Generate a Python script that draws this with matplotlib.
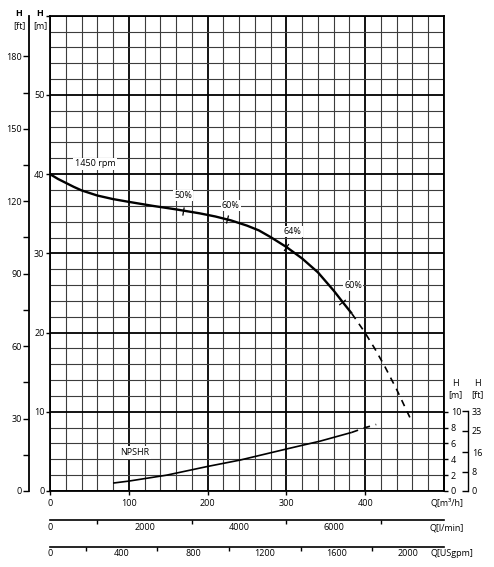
import numpy as np
import matplotlib.pyplot as plt
from matplotlib.ticker import MultipleLocator, FixedLocator

plt.rcParams['font.family'] = ['Open Sans', 'DejaVu Sans']
plt.rcParams['font.size'] = 6.5

# pump curve H(Q), 1450 rpm
q_head = [0, 10, 20, 30, 40, 60, 80, 100, 130, 160, 190, 210, 230, 250, 265, 280,
          300, 320, 340, 360, 371, 383]
h_head = [40.0, 39.4, 38.9, 38.4, 37.95, 37.3, 36.85, 36.5, 36.0, 35.55, 35.05, 34.65,
          34.15, 33.5, 32.9, 32.05, 30.8, 29.35, 27.6, 25.3, 23.9, 22.4]
q_head_ext = [383, 399, 412, 425, 440, 459]
h_head_ext = [22.4, 20.1, 18.0, 15.7, 12.8, 8.8]

# NPSHR
q_npsh = [80, 100, 148, 200, 241, 300, 343, 383]
h_npsh = [1.0, 1.25, 2.0, 3.1, 3.9, 5.3, 6.3, 7.4]
q_npsh_ext = [383, 400, 414]
h_npsh_ext = [7.4, 8.0, 8.4]

# efficiency points on the curve
eff_q = [169, 224, 300, 371]
eff_h = [35.4, 34.3, 30.8, 23.9]
eff_labels = ['50%', '60%', '64%', '60%']

q_ticks = [0, 100, 200, 300, 400, 500]
q_labels = ['0', '100', '200', '300', '400', '']
h_ticks = [0, 10, 20, 30, 40, 50, 60]
h_labels = ['0', '10', '20', '30', '40', '50', '']
ft_ticks = [0, 30, 60, 90, 120, 150, 180]
ft_minor = [15, 45, 75, 105, 135, 165]
npsh_m_ticks = [0, 2, 4, 6, 8, 10]
npsh_ft_ticks = [0, 8, 16, 25, 33]
lmin_ticks = [0, 2000, 4000, 6000]
lmin_minor = [1000, 3000, 5000, 7000]
gpm_ticks = [0, 400, 800, 1200, 1600, 2000]
gpm_minor = [200, 600, 1000, 1400, 1800]

W, H = 494, 567
fig = plt.figure(figsize=(W / 100, H / 100), dpi=100)
x0, x1, ytop, ybot = 50, 444, 15.7, 491
ax = fig.add_axes([x0 / W, 1 - ybot / H, (x1 - x0) / W, (ybot - ytop) / H])
ax.set_xlim(0, 500)
ax.set_ylim(0, 60)

ax.set_xticks(q_ticks)
ax.set_xticklabels(q_labels)
ax.set_yticks(h_ticks)
ax.set_yticklabels(h_labels)
ax.xaxis.set_minor_locator(MultipleLocator(20))
ax.yaxis.set_minor_locator(MultipleLocator(2))
ax.set_axisbelow(True)
ax.grid(which='minor', color='#3c3c3c', lw=0.8)
ax.grid(which='major', color='black', lw=1.3)
ax.tick_params(which='minor', length=0)
ax.tick_params(axis='x', which='major', length=3, width=1, pad=3)
ax.tick_params(axis='y', which='major', length=3, width=1, pad=1)
ax.xaxis.get_major_ticks()[-1].tick1line.set_visible(False)
ax.yaxis.get_major_ticks()[-1].tick1line.set_visible(False)
for s in ax.spines.values():
    s.set_linewidth(1.3)

# curves
ax.plot(q_head, h_head, color='black', lw=1.7, zorder=4, solid_capstyle='butt',
        solid_joinstyle='round')
ax.plot(q_head_ext, h_head_ext, color='black', lw=1.2, ls=(0, (4, 3.5)), zorder=4)
ax.plot(q_npsh, h_npsh, color='black', lw=1.2, zorder=4, solid_capstyle='butt')
ax.plot(q_npsh_ext, h_npsh_ext, color='black', lw=1.2, ls=(0, (4, 3.5)), zorder=4)

# efficiency marks, perpendicular to curve
fig.canvas.draw()
offsets = [(0, 11), (3, 10), (4.5, 11), (8, 11.5)]
for q, h, lab, off in zip(eff_q, eff_h, eff_labels, offsets):
    a = ax.transData.transform((q - 4, np.interp(q - 4, q_head, h_head)))
    b = ax.transData.transform((q + 4, np.interp(q + 4, q_head, h_head)))
    ang = np.degrees(np.arctan2(b[1] - a[1], b[0] - a[0]))
    ax.plot([q], [h], marker=(2, 0, ang), ms=6, mew=0.9, color='black', zorder=5)
    ax.annotate(lab, (q, h), xytext=off, textcoords='offset points',
                ha='center', va='center', zorder=6,
                bbox=dict(facecolor='white', edgecolor='none', pad=0.8))

ax.text(57, 41.3, '1450 rpm', ha='center', va='center', zorder=6,
        bbox=dict(facecolor='white', edgecolor='none', pad=1.2))
ax.text(108, 4.85, 'NPSHR', ha='center', va='center', zorder=6,
        bbox=dict(facecolor='white', edgecolor='none', pad=1.2))

# left H [ft] axis
axf = ax.twinx()
axf.set_ylim(0, 60 / 0.3048)
for s in ['top', 'right', 'bottom']:
    axf.spines[s].set_visible(False)
axf.spines['left'].set_visible(True)
axf.spines['left'].set_position(('axes', (29.3 - x0) / (x1 - x0)))
axf.spines['left'].set_linewidth(1.3)
axf.yaxis.set_ticks_position('left')
axf.set_yticks(ft_ticks)
axf.yaxis.set_minor_locator(FixedLocator(ft_minor))
axf.tick_params(which='both', length=4, width=1, pad=1.5)

# right NPSH axes
axr = ax.twinx()
axr.set_ylim(0, 60)
for s in ['top', 'left', 'bottom']:
    axr.spines[s].set_visible(False)
axr.spines['right'].set_bounds(0, 10)
axr.spines['right'].set_linewidth(1.3)
axr.set_yticks(npsh_m_ticks)
axr.tick_params(length=3, width=1, pad=2)

axr2 = ax.twinx()
axr2.set_ylim(0, 60 / 0.3048)
for s in ['top', 'left', 'bottom']:
    axr2.spines[s].set_visible(False)
axr2.spines['right'].set_position(('axes', (467.7 - x0) / (x1 - x0)))
axr2.spines['right'].set_bounds(0, 33)
axr2.spines['right'].set_linewidth(1.0)
axr2.set_yticks(npsh_ft_ticks)
axr2.tick_params(direction='in', length=4, width=1, pad=3)

# extra flow scales
sec1 = ax.secondary_xaxis((ybot - 520.3) / (ybot - ytop),
                          functions=(lambda q: q * 1000 / 60, lambda l: l * 60 / 1000))
sec1.set_xticks(lmin_ticks)
sec1.xaxis.set_minor_locator(FixedLocator(lmin_minor))
sec1.tick_params(which='major', length=0, pad=2)
sec1.tick_params(which='minor', length=3, width=1)
sec1.spines['bottom'].set_linewidth(1.2)

sec2 = ax.secondary_xaxis((ybot - 546.7) / (ybot - ytop),
                          functions=(lambda q: q / 0.227125, lambda g: g * 0.227125))
sec2.set_xticks(gpm_ticks)
sec2.xaxis.set_minor_locator(FixedLocator(gpm_minor))
sec2.tick_params(which='major', length=0, pad=2)
sec2.tick_params(which='minor', length=3, width=1)
sec2.spines['bottom'].set_linewidth(1.2)

# axis headers
def ftext(px, py, s, **kw):
    fig.text(px / W, 1 - py / H, s, ha='center', va='center', **kw)

ftext(19, 13, 'H', fontweight='bold')
ftext(19, 26, '[ft]')
ftext(40, 13, 'H', fontweight='bold')
ftext(40, 26, '[m]')
ftext(455, 383, 'H')
ftext(455, 395, '[m]')
ftext(477, 383, 'H')
ftext(477, 395, '[ft]')
ftext(446.5, 503, 'Q[m³/h]')
ftext(446.5, 528, 'Q[l/min]')
ftext(452, 554, 'Q[USgpm]')

fig.savefig('out.png', dpi=100)
